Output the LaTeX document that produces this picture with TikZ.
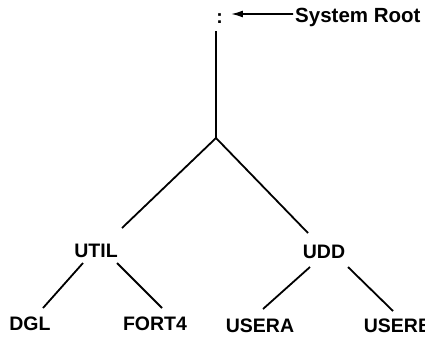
\documentclass[tikz,border=0pt]{standalone}
\usepackage{fontspec}
\setmainfont{Liberation Sans}
\usetikzlibrary{arrows.meta}
\begin{document}
\begin{tikzpicture}[x=1pt,y=-1pt,
  lbl/.style={font=\fontsize{19.5}{20}\selectfont\bfseries, inner sep=0pt, anchor=base},
  edge/.style={line width=1.8pt},
  ptr/.style={line width=1.6pt, -{Latex[length=12pt,width=7pt]}}]
\useasboundingbox (0,0) rectangle (425,341);
\node[lbl] (root) at (219.5,23) {:};
\node[lbl, anchor=base west, font=\fontsize{20.5}{21}\selectfont\bfseries] (sysroot) at (295,22) {System Root};
\coordinate (top) at (216,31);
\coordinate (branch) at (216,138);
\node[lbl] (util) at (96,257) {UTIL};
\node[lbl] (udd) at (324,258) {UDD};
\node[lbl] (dgl) at (30,330) {DGL};
\node[lbl] (fort4) at (155,330) {FORT4};
\node[lbl] (usera) at (260,332) {USERA};
\node[lbl] (userb) at (398,332) {USERB};
\draw[ptr] ([xshift=-2pt,yshift=3pt]sysroot.west) -- ([xshift=8pt]root.east |- 0,14);
\draw[edge] (top) -- (branch);
\draw[edge] (branch) -- ([shift={(26,-29)}]util.base);
\draw[edge] (branch) -- ([shift={(-16,-25)}]udd.base);
\draw[edge] ([shift={(-13,6)}]util.base) -- ([shift={(13,-22)}]dgl.base);
\draw[edge] ([shift={(21,6)}]util.base) -- ([shift={(7,-22)}]fort4.base);
\draw[edge] ([shift={(-14,9)}]udd.base) -- ([shift={(3,-23)}]usera.base);
\draw[edge] ([shift={(24,9)}]udd.base) -- ([shift={(-5,-21)}]userb.base);
\end{tikzpicture}
\end{document}
